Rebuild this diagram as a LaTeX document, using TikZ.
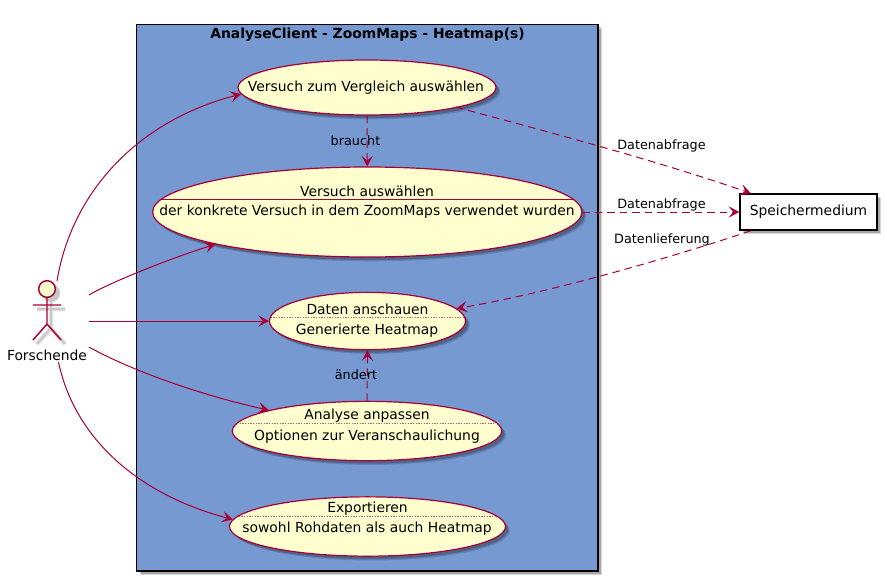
\documentclass[tikz,border=0pt]{standalone}
\usepackage{fontspec}
\setmainfont{DejaVu Sans}
\usetikzlibrary{arrows.meta,shapes.geometric,shadows}
\definecolor{umlred}{HTML}{A80036}
\definecolor{umlfill}{HTML}{FEFECE}
\definecolor{pkgblue}{HTML}{7799D1}
\tikzset{every picture/.style={line width=0.75pt}}
\tikzset{
  umltip/.style={-{Stealth[length=8pt,width=8.5pt,inset=3.5pt]}},
  softshadow/.style={
    drop shadow={shadow xshift=3.2pt,shadow yshift=-3.2pt,opacity=0.16,fill=black},
    drop shadow={shadow xshift=2.2pt,shadow yshift=-2.2pt,opacity=0.22,fill=black}},
  usecase/.style={ellipse,draw=umlred,fill=umlfill,line width=0.9pt,inner sep=0pt,softshadow},
  assoc/.style={umltip,draw=umlred},
  dep/.style={umltip,draw=umlred,dash pattern={on 5.6pt off 3.75pt}},
  sepdots/.style={draw=umlred!65,line width=0.4pt,dash pattern={on 1pt off 1pt}},
  casetext/.style={font=\fontsize{10.4}{12}\selectfont,inner sep=0pt,text=black},
  edgetext/.style={font=\fontsize{9.6}{11}\selectfont,inner sep=0pt,text=black},
}

\begin{document}
\begin{tikzpicture}[x=0.75pt,y=0.75pt,yscale=-1,xscale=1]
\useasboundingbox (0,0) rectangle (887,582);

%Package frame
\node (pkgframe) [draw=black,fill=pkgblue,line width=1.1pt,inner sep=0pt,minimum width=346pt,minimum height=410pt,softshadow] at (367.25,297.75) {};
\node (pkgtitle) [font=\bfseries\fontsize{10.4}{12}\selectfont,inner sep=0pt] at (367.5,35) {AnalyseClient - ZoomMaps - Heatmap(s)};

%Use cases
\node (vergleich) [usecase,minimum width=193.5pt,minimum height=41.25pt] at (367,87.5) {};
\node (auswahl) [usecase,minimum width=322pt,minimum height=67.5pt] at (367.25,212) {};
\node (anschauen) [usecase,minimum width=147pt,minimum height=43pt] at (367.5,321) {};
\node (anpassen) [usecase,minimum width=202pt,minimum height=44.5pt] at (367,431) {};
\node (exportieren) [usecase,minimum width=207pt,minimum height=44.5pt] at (367.5,526.5) {};

%Storage
\node (speicher) [draw=black,fill=white,line width=1.1pt,inner sep=0pt,minimum width=102.75pt,minimum height=27pt,softshadow,casetext] at (808.5,212) {Speichermedium};

%Separators
\draw [umlred,line width=0.75pt] ([shift={(-207,-13)}]auswahl.center) -- ([shift={(207,-13)}]auswahl.center) ;
\draw [sepdots] ([shift={(-97,-4)}]anschauen.center) -- ([shift={(97,-4)}]anschauen.center) ;
\draw [sepdots] ([shift={(-130,-8)}]anpassen.center) -- ([shift={(130,-8)}]anpassen.center) ;
\draw [sepdots] ([shift={(-129,-10.5)}]exportieren.center) -- ([shift={(129,-10.5)}]exportieren.center) ;

%Actor shadow
\draw [black!10,line width=3.5pt] (51,301) -- (51,328) (37,309) -- (65,309) (37,344) -- (51,328) -- (65,344) ;
\draw [black!22,line width=1.5pt] (51,301) -- (51,328) (37,309) -- (65,309) (37,344) -- (51,328) -- (65,344) ;
\fill [black!22] (51,293) circle (9) ;
%Actor
\node (actorhead) [circle,draw=umlred,fill=umlfill,line width=1.1pt,inner sep=0pt,minimum size=12.5pt] at (47,289) {};
\coordinate (actorneck) at (47,297.5);
\coordinate (actorhip) at (47,324);
\coordinate (armleft) at (33,305);
\coordinate (armright) at (61,305);
\coordinate (legleft) at (33,340);
\coordinate (legright) at (61,340);
\draw [umlred,line width=1.1pt] (actorneck) -- (actorhip) (armleft) -- (armright) (legleft) -- (actorhip) -- (legright) ;
\node (forschende) [casetext] at (47,355) {Forschende};

%Actor connectors
\coordinate (fromtop) at (57,281);
\coordinate (fromupper) at (89,295);
\coordinate (frommid) at (89,321);
\coordinate (fromlower) at (89,347);
\coordinate (frombottom) at (58.5,362);
\draw [assoc] (fromtop) .. controls (72,190) and (140,120) .. (vergleich.183.75) ;
\draw [assoc] (fromupper) .. controls (105,285) and (165,260) .. (auswahl.192.5) ;
\draw [assoc] (frommid) -- (anschauen.west) ;
\draw [assoc] (fromlower) .. controls (130,370) and (200,395) .. (anpassen.168) ;
\draw [assoc] (frombottom) .. controls (75,440) and (140,495) .. (exportieren.177) ;

%Dependencies
\draw [dep] (vergleich.south) -- (auswahl.north) ;
\draw [dep] ([shift={(89,19.5)}]vergleich.center) .. controls (510,122) and (640,155) .. (speicher.162.6) ;
\draw [dep] (auswahl.east) -- (speicher.west) ;
\draw [dep] (speicher.198.6) .. controls (700,248) and (565,290) .. (anschauen.8.7) ;
\draw [dep] (anpassen.north) -- (anschauen.south) ;

%Text nodes
\node (vergleichtext) [casetext] at (366,88) {Versuch zum Vergleich auswählen};
\node (auswahltop) [casetext] at (367,191) {Versuch auswählen};
\node (auswahlsub) [casetext] at (367,212) {der konkrete Versuch in dem ZoomMaps verwendet wurden};
\node (anschauentop) [casetext] at (367.5,309.5) {Daten anschauen};
\node (anschauensub) [casetext] at (367,331) {Generierte Heatmap};
\node (anpassentop) [casetext] at (367,416) {Analyse anpassen};
\node (anpassensub) [casetext] at (367,437) {Optionen zur Veranschaulichung};
\node (exportierentop) [casetext] at (367.5,509) {Exportieren};
\node (exportierensub) [casetext] at (367,529) {sowohl Rohdaten als auch Heatmap};
\node (brauchtlabel) [edgetext] at (355.5,140.5) {braucht};
\node (aendertlabel) [edgetext] at (356,375) {ändert};
\node (abfrageone) [edgetext] at (661.5,145.5) {Datenabfrage};
\node (abfragetwo) [edgetext] at (661.5,204.5) {Datenabfrage};
\node (lieferung) [edgetext] at (662,239.5) {Datenlieferung};

\end{tikzpicture}
\end{document}
